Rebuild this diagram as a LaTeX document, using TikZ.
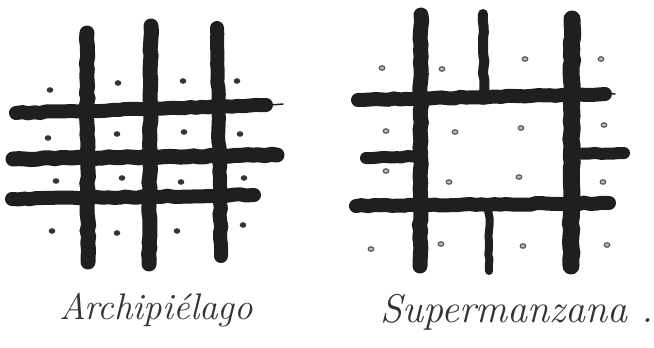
\documentclass[tikz,border=0pt]{standalone}
\usetikzlibrary{decorations.pathmorphing}
\begin{document}
\begin{tikzpicture}[x=1pt,y=-1pt,
  bar/.style={line width=#1, draw=black!88, line cap=round,
    decorate, decoration={random steps, segment length=6pt, amplitude=0.8pt}},
  bar/.default=14,
  ldot/.style={fill=black!80, draw=none},
  rdot/.style={draw=black!65, fill=black!25, line width=1.2pt},
  label/.style={text=black!80, inner sep=0pt}]
\useasboundingbox (0,0) rectangle (654,348);
% ---------- Archipielago ----------
\draw[bar=15] (87,33) -- (88,262);
\draw[bar=15] (151,26) -- (149,264);
\draw[bar=14] (217,28) -- (221,256);
\draw[bar=14] (16,113) -- (266,105);
\draw[bar=1.5] (266,105) -- (283,104);
\draw[bar=15] (13,159) -- (277,155);
\draw[bar=14] (12,199) -- (254,195);
\foreach \x/\y in {50/90,118/83,183/81,237/81,
                   48/138,117/134,184/132,240/134,
                   56/181,122/178,181/182,244/178,
                   52/231,117/233,177/231,243/225}
  \fill[ldot] (\x,\y) ellipse (3.3pt and 2.8pt);
\node[label, font=\fontsize{37}{40}\selectfont\itshape] (archi) at (156,310) {Archipiélago};
% ---------- Supermanzana ----------
\draw[bar=15] (421,15) -- (420,266);
\draw[bar=10] (483,14) -- (484,94);
\draw[bar=17] (572,19) -- (571,266);
\draw[bar=8] (489,206) -- (489,271);
\draw[bar=14] (358,100) -- (605,94);
\draw[bar=1.5] (605,94) -- (615,94);
\draw[bar=12] (366,158) -- (421,156);
\draw[bar=12] (571,154) -- (624,153);
\draw[bar=14] (356,206) -- (609,203);
\foreach \x/\y in {382/68,442/69,525/59,601/59,
                   386/131,455/132,521/128,604/125,
                   386/171,449/182,519/177,603/182,
                   371/249,441/244,523/246,607/245}
  \draw[rdot] (\x,\y) ellipse (2.8pt and 2.2pt);
\node[label, font=\fontsize{40}{44}\selectfont\itshape] (super) at (517,312) {Supermanzana .};
\end{tikzpicture}
\end{document}
